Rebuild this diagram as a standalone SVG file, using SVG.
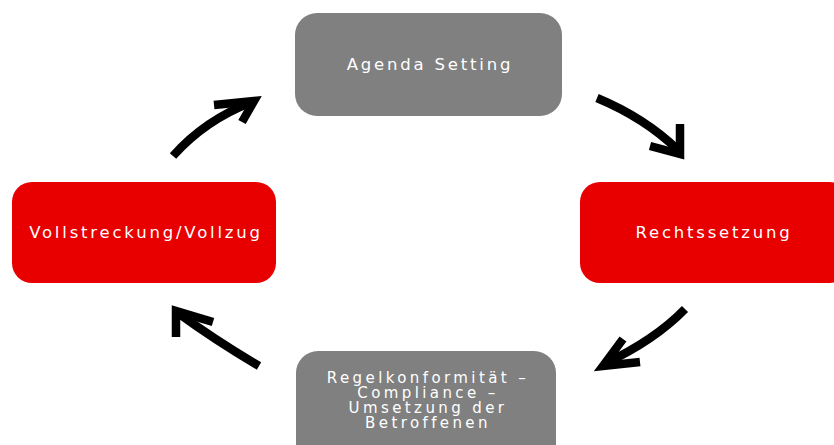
<svg xmlns="http://www.w3.org/2000/svg" width="834" height="445" viewBox="0 0 834 445">
<style>
.gray{fill:#808080}
.red{fill:#E80000}
.t{font-family:"DejaVu Sans",sans-serif;font-size:16.5px;fill:#fff;text-anchor:middle;letter-spacing:2.8px}
.s{font-size:15px;letter-spacing:3.4px}
.a{fill:none;stroke:#000;stroke-width:8.5;stroke-linecap:butt;stroke-linejoin:miter}
</style>
<rect width="834" height="445" fill="#fff"/>
<g id="agenda"><rect class="gray" x="295" y="13" width="267" height="103" rx="22"/><text class="t" x="430" y="70">Agenda Setting</text></g>
<g id="recht"><rect class="red" x="580" y="182" width="270" height="101" rx="20"/><text class="t" x="714" y="238">Rechtssetzung</text></g>
<g id="regel"><rect class="gray" x="296" y="351" width="260" height="120" rx="22"/><text class="t s" x="428" y="383">Regelkonformität –</text><text class="t s" x="428" y="398">Compliance –</text><text class="t s" x="428" y="413">Umsetzung der</text><text class="t s" x="428" y="428">Betroffenen</text></g>
<g id="voll"><rect class="red" x="12" y="182" width="264" height="101" rx="20"/><text class="t" x="146" y="238">Vollstreckung/Vollzug</text></g>
<g id="connectors">
<path class="a" d="M173 156 Q205 120 252 102"/><path class="a" d="M214 105 L254 101 L242 122"/>
<path class="a" d="M597 98 Q645 118 678 150"/><path class="a" d="M680 124 L680 154 L650 146"/>
<path class="a" d="M685 309 Q655 340 604 364"/><path class="a" d="M623 339 L603 366 L640 362"/>
<path class="a" d="M259 366 Q215 340 178 313"/><path class="a" d="M213 322 L176 311 L176 337"/>
</g>
</svg>
